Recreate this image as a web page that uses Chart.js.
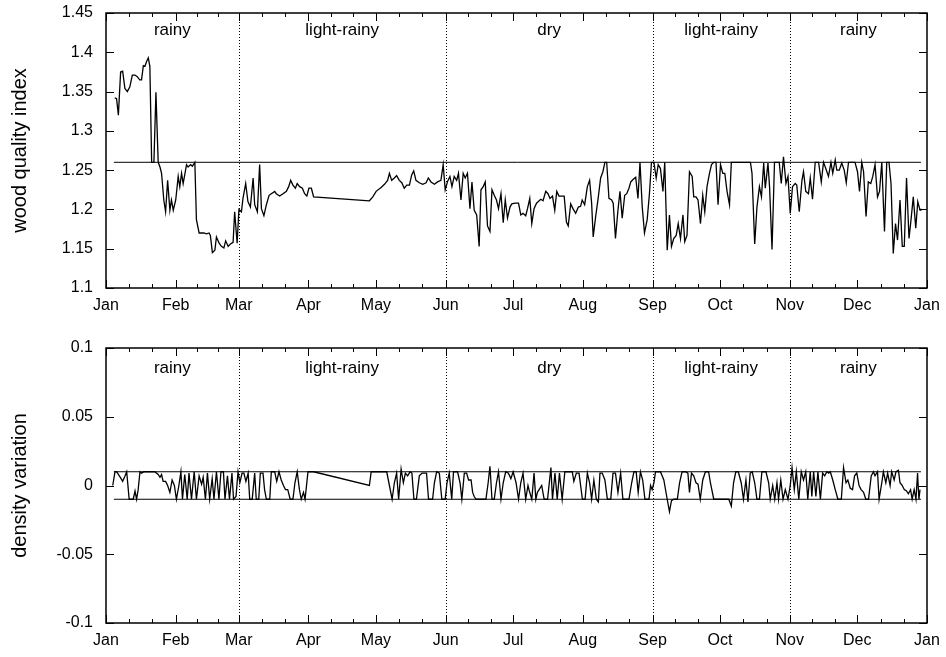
<!DOCTYPE html>
<html lang="en">
<head>
  <meta charset="UTF-8">
  <title>Wood quality index and density variation</title>
  <script src="https://cdn.jsdelivr.net/npm/chart.js"></script>
  <style>
    body {
      margin: 0;
      background: #fff;
    }
    .panel {
      width: 946px;
    }
    canvas {
      display: block;
    }
  </style>
</head>
<body>
  <div class="panel"><canvas id="qualityChart" width="946" height="330"></canvas></div>
  <div class="panel"><canvas id="densityChart" width="946" height="327"></canvas></div>

  <script>
    // month ticks (day of year)
    const monthStarts = [0, 31, 59, 90, 120, 151, 181, 212, 243, 273, 304, 334, 365];
    const monthLabels = ["Jan", "Feb", "Mar", "Apr", "May", "Jun", "Jul", "Aug", "Sep", "Oct", "Nov", "Dec", "Jan"];

    // seasons
    const seasonBounds = [59, 151, 243, 304];
    const seasonNames = ["rainy", "light-rainy", "dry", "light-rainy", "rainy"];
    const seasonCenters = [29.5, 105, 197, 273.5, 334.5];

    const qualityTicks = [1.1, 1.15, 1.2, 1.25, 1.3, 1.35, 1.4, 1.45];
    const densityTicks = [-0.1, -0.05, 0, 0.05, 0.1];

    // threshold lines
    const limitDays = [3.5, 362.3];
    const qualityLimit = 1.26;
    const densityUpper = 0.01;
    const densityLower = -0.01;

    const qualityDays = [
      3.9, 4.7, 5.5, 6.5, 7.4, 8.4, 9.5, 10.6, 11.7, 12.9, 13.9, 15.0, 15.8, 16.6, 17.3, 18.0, 18.8, 19.5, 20.3, 21.3, 22.2, 23.2, 24.0, 24.7, 25.7, 26.5, 27.4, 28.4, 29.1, 29.9,
      31.0, 32.1, 32.8, 33.6, 34.3, 35.0, 35.8, 36.5, 37.6, 38.4, 39.5, 40.2, 41.4, 42.5, 43.5, 44.7, 45.8, 46.4, 47.3, 48.4, 49.1, 50.3, 51.3, 52.4, 53.2, 54.3, 55.3, 56.5, 57.2, 58.3,
      59.1, 60.2, 60.9, 62.1, 63.1, 64.2, 65.4, 66.1, 67.3, 68.3, 69.1, 70.2, 71.3, 72.5, 73.5, 75.0, 75.7, 77.2, 78.7, 80.2, 81.2, 82.1, 83.1, 84.2, 85.0, 86.1, 87.3, 88.3, 89.3,
      90.2, 91.3, 92.3, 117.1, 118.6, 120.1, 122.3, 123.8, 125.2, 126.0, 127.0, 128.2, 129.2, 130.4, 131.5, 132.6, 133.7, 134.9, 135.9, 136.8, 137.8, 139.3, 140.8, 142.3, 143.3, 144.5, 146.0, 147.4, 148.9, 149.9, 150.8,
      151.9, 152.9, 153.8, 154.8, 155.9, 156.7, 157.8, 158.8, 159.7, 160.7, 161.8, 162.7, 163.7, 164.8, 165.9, 166.7, 167.7, 168.6, 169.6, 170.7, 171.6, 172.6, 173.6, 174.5, 175.6, 176.6, 177.5, 178.5, 179.6, 180.4,
      181.9, 183.4, 184.4, 185.4, 186.6, 187.4, 188.4, 189.3, 190.3, 191.4, 192.2, 193.3, 194.3, 195.5, 196.5, 197.4, 198.5, 199.5, 200.4, 201.4, 202.6, 203.7, 204.7, 205.5, 206.6, 207.6, 208.8, 210.0, 211.0, 211.7,
      212.8, 214.0, 215.0, 215.9, 216.6, 217.7, 218.8, 219.9, 220.9, 221.8, 222.6, 223.6, 224.8, 225.5, 226.5, 227.6, 228.5, 229.5, 230.6, 231.5, 232.5, 233.3, 234.3, 235.5, 236.5, 237.4, 238.4, 239.4, 240.6, 241.6, 242.5,
      243.6, 244.6, 245.5, 246.5, 247.6, 248.4, 249.5, 250.5, 251.4, 252.4, 253.5, 254.4, 255.4, 256.5, 257.3, 258.3, 259.4, 260.6, 261.3, 262.3, 263.2, 264.3, 265.3, 266.2, 267.2, 268.3, 269.2, 270.2, 271.2, 272.1,
      273.2, 274.2, 275.1, 276.1, 277.2, 278.0, 286.5, 287.2, 288.4, 289.4, 290.5, 291.4, 292.4, 293.1, 294.3, 295.0, 296.1, 297.2, 298.2, 299.3, 300.2, 301.2, 302.3, 303.2,
      304.2, 305.2, 306.4, 307.1, 308.2, 309.4, 310.1, 311.1, 312.3, 313.1, 314.1, 315.3, 316.8, 318.0, 319.0, 320.0, 321.2, 322.3, 323.1, 324.2, 324.9, 326.0, 327.1, 328.2, 329.1, 330.1, 333.0,
      334.1, 335.0, 336.0, 336.8, 337.9, 338.9, 340.0, 340.9, 341.9, 343.0, 343.9, 344.9, 346.1, 347.1, 348.1, 349.0, 350.0, 351.0, 351.9, 353.0, 354.0, 354.9, 355.9, 357.0, 357.9, 358.9, 360.0, 360.9, 361.9, 362.3
    ];
    const qualityValues = [
      1.342, 1.341, 1.320, 1.375, 1.376, 1.354, 1.350, 1.356, 1.371, 1.371, 1.369, 1.365, 1.365, 1.383, 1.382, 1.388, 1.393, 1.382, 1.26, 1.26, 1.349, 1.26, 1.254, 1.246, 1.212, 1.197, 1.237, 1.199, 1.212, 1.199,
      1.212, 1.242, 1.229, 1.246, 1.233, 1.244, 1.257, 1.254, 1.257, 1.255, 1.26, 1.187, 1.170, 1.170, 1.170, 1.169, 1.170, 1.167, 1.145, 1.148, 1.165, 1.157, 1.153, 1.151, 1.160, 1.153, 1.156, 1.158, 1.197, 1.157,
      1.200, 1.197, 1.214, 1.233, 1.210, 1.203, 1.240, 1.206, 1.197, 1.257, 1.201, 1.192, 1.206, 1.218, 1.220, 1.223, 1.220, 1.217, 1.220, 1.223, 1.229, 1.237, 1.231, 1.227, 1.233, 1.229, 1.227, 1.220, 1.217,
      1.227, 1.227, 1.216, 1.211, 1.216, 1.223, 1.228, 1.232, 1.237, 1.246, 1.237, 1.240, 1.243, 1.237, 1.234, 1.227, 1.231, 1.231, 1.244, 1.249, 1.237, 1.234, 1.232, 1.234, 1.240, 1.235, 1.232, 1.235, 1.237, 1.257, 1.225,
      1.236, 1.242, 1.229, 1.242, 1.237, 1.246, 1.212, 1.246, 1.240, 1.246, 1.201, 1.235, 1.199, 1.193, 1.153, 1.225, 1.229, 1.235, 1.179, 1.172, 1.225, 1.218, 1.212, 1.201, 1.220, 1.183, 1.212, 1.189, 1.203, 1.207,
      1.208, 1.208, 1.193, 1.195, 1.192, 1.201, 1.214, 1.182, 1.201, 1.208, 1.210, 1.213, 1.211, 1.223, 1.220, 1.214, 1.217, 1.199, 1.223, 1.217, 1.217, 1.217, 1.184, 1.179, 1.207, 1.201, 1.195, 1.203, 1.204, 1.212,
      1.206, 1.229, 1.237, 1.208, 1.165, 1.191, 1.214, 1.240, 1.248, 1.26, 1.26, 1.214, 1.212, 1.208, 1.163, 1.199, 1.223, 1.189, 1.218, 1.220, 1.227, 1.235, 1.238, 1.241, 1.214, 1.26, 1.203, 1.170, 1.187, 1.220, 1.26,
      1.26, 1.240, 1.257, 1.252, 1.223, 1.26, 1.148, 1.193, 1.153, 1.163, 1.167, 1.182, 1.163, 1.193, 1.159, 1.167, 1.248, 1.242, 1.216, 1.216, 1.212, 1.182, 1.218, 1.197, 1.229, 1.246, 1.257, 1.26, 1.26, 1.206,
      1.257, 1.246, 1.246, 1.223, 1.206, 1.26, 1.26, 1.246, 1.156, 1.203, 1.229, 1.216, 1.259, 1.227, 1.259, 1.229, 1.149, 1.26, 1.26, 1.26, 1.233, 1.267, 1.233, 1.242,
      1.195, 1.229, 1.233, 1.231, 1.197, 1.237, 1.248, 1.223, 1.220, 1.240, 1.213, 1.26, 1.26, 1.235, 1.26, 1.252, 1.242, 1.26, 1.246, 1.263, 1.250, 1.250, 1.259, 1.250, 1.234, 1.26, 1.26,
      1.248, 1.223, 1.26, 1.248, 1.191, 1.235, 1.233, 1.242, 1.257, 1.216, 1.223, 1.26, 1.172, 1.26, 1.26, 1.233, 1.144, 1.182, 1.161, 1.212, 1.153, 1.153, 1.240, 1.163, 1.187, 1.216, 1.176, 1.210, 1.199, 1.201
    ];

    const densityDays = [
      3.0, 4.0, 4.7, 6.5, 7.4, 8.4, 9.2, 10.3, 12.1, 12.9, 13.6, 14.3, 15.1, 15.8, 16.9, 21.7, 23.2, 24.0, 24.7, 25.4, 26.5, 27.4, 28.4, 29.4, 30.4,
      31.3, 32.4, 33.3, 34.0, 35.0, 36.1, 36.9, 38.0, 39.2, 40.2, 41.4, 42.5, 43.2, 44.2, 45.1, 46.1, 47.2, 48.0, 49.1, 50.2, 51.1, 52.2, 52.9, 54.0, 54.9, 56.0, 56.7, 57.8, 58.7,
      59.5, 60.5, 61.3, 62.2, 63.2, 63.9, 65.0, 66.1, 66.8, 67.9, 68.6, 69.8, 70.5, 71.3, 72.8, 73.5, 75.0, 75.9, 76.9, 77.9, 78.9, 79.8, 80.8, 81.9, 83.1, 84.0, 85.0, 86.0, 86.8, 87.8, 88.5, 89.8,
      92.3, 117.1, 117.9, 124.8, 126.0, 127.2, 128.2, 129.2, 130.1, 131.2, 132.2, 133.1, 134.1, 135.2, 136.0, 136.9, 138.0, 139.3, 140.5, 141.5, 142.5, 143.4, 145.2, 146.0, 147.0, 148.2, 149.3, 150.8,
      151.6, 152.6, 153.7, 154.5, 156.3, 157.4, 158.2, 159.3, 160.3, 161.2, 162.3, 163.0, 163.7, 164.5, 168.9, 169.9, 170.7, 171.6, 172.6, 173.6, 174.5, 175.6, 176.6, 177.7, 178.9, 180.0,
      181.0, 182.3, 183.4, 184.4, 185.4, 186.6, 187.6, 188.2, 189.3, 190.3, 191.1, 191.8, 193.7, 194.8, 196.3, 197.8, 198.5, 199.6, 200.6, 201.6, 202.8, 204.0, 205.5, 207.3, 208.0, 209.1, 210.3, 211.8,
      213.0, 214.0, 215.0, 215.9, 216.9, 218.0, 218.9, 219.6, 220.6, 221.8, 222.9, 224.4, 225.4, 226.5, 227.6, 228.8, 229.8, 232.5, 233.7, 234.7, 235.7, 236.6, 237.6, 238.6, 239.6, 241.4, 242.1, 242.8,
      243.6, 244.3, 246.5, 248.0, 249.5, 250.5, 251.4, 252.4, 254.0, 255.0, 256.1, 257.6, 258.7, 259.4, 260.3, 261.3, 262.3, 263.2, 264.2, 265.3, 266.5, 267.9, 268.7, 270.2,
      276.9, 278.0, 279.0, 280.0, 281.1, 282.4, 283.4, 284.5, 285.4, 286.4, 287.3, 288.4, 289.4, 290.5, 291.6, 293.4, 294.6, 295.3, 296.4, 297.3, 298.3, 299.0, 300.0, 301.0, 302.0, 303.2,
      304.2, 305.0, 306.0, 306.9, 308.0, 309.1, 310.1, 311.1, 312.0, 313.1, 313.8, 314.6, 315.6, 316.5, 317.6, 318.6, 319.5, 320.5, 321.3, 322.0, 323.1, 324.2, 325.4, 326.9, 327.9, 329.0, 329.8, 330.9, 331.9, 332.8, 333.8,
      334.8, 335.7, 336.8, 337.8, 339.0, 340.2, 341.2, 341.9, 343.0, 343.7, 344.9, 345.6, 346.7, 347.5, 348.6, 349.3, 350.4, 351.2, 352.3, 353.0, 354.0, 354.9, 355.9, 356.7, 357.7, 358.4, 359.3, 360.1, 360.8, 361.4, 361.9
    ];
    const densityValues = [
      0, 0.01, 0.01, 0.0055, 0.003, 0.0067, 0.01, -0.01, -0.01, -0.004, -0.01, -0.003, 0.01, 0.009, 0.01, 0.01, 0.008, 0.006, 0.008, 0.003, 0.003, 0, -0.005, 0.004, 0,
      -0.01, 0, 0.01, -0.01, 0.008, -0.01, 0.009, -0.01, 0.01, -0.01, 0.007, 0.001, 0.006, -0.01, 0.009, -0.01, 0.005, -0.01, 0.01, -0.01, 0.01, 0.01, -0.01, 0.007, -0.01, 0.009, -0.01, -0.008, 0.01,
      0.002, 0.009, 0.009, 0.003, 0.009, -0.01, -0.01, 0.009, -0.01, -0.01, 0.009, 0.009, -0.003, -0.01, -0.01, 0.01, 0.01, 0.003, 0.01, 0.004, 0, -0.003, -0.003, -0.01, -0.01, 0.002, 0.01, -0.003, -0.01, -0.005, -0.01, 0.01,
      0.01, 0, 0.01, 0.01, 0, -0.01, 0.002, 0.009, -0.01, 0.012, 0.002, 0.009, 0.007, 0.01, 0.009, -0.01, -0.01, 0.007, 0.009, 0.009, 0.009, -0.01, -0.01, 0.002, 0.01, 0.009, -0.01, -0.01,
      0.002, 0.009, -0.01, 0.01, 0.01, 0.002, -0.01, 0.009, 0.009, 0.004, 0.004, -0.005, -0.008, -0.01, -0.01, 0.002, 0.014, -0.01, -0.01, 0.002, 0.01, -0.01, 0.002, 0.01, 0.009, 0.005,
      0.01, 0.002, -0.01, 0.002, 0.009, -0.01, 0, -0.004, -0.01, 0.009, -0.01, -0.005, 0, -0.01, -0.01, 0.013, -0.01, 0.009, -0.01, 0.009, -0.01, 0.01, 0.01, 0.01, 0.003, 0.009, 0.009, -0.01,
      -0.01, 0.009, 0.002, -0.01, 0.004, -0.01, -0.012, 0.009, 0.009, 0.004, -0.01, -0.01, 0.009, 0.009, -0.005, 0.009, -0.01, -0.01, 0.002, 0.01, 0.01, -0.005, 0.01, 0.004, -0.01, -0.01, 0, -0.003,
      0.002, 0.01, 0.01, 0.004, -0.01, -0.019, -0.011, -0.01, -0.01, 0.002, 0.01, 0.01, 0.009, -0.005, 0.009, 0.007, 0.002, 0.001, -0.01, 0.004, 0.01, 0.01, 0.002, -0.01,
      -0.01, -0.015, 0.002, 0.01, 0.01, 0.002, -0.01, 0.004, -0.012, 0.009, 0.01, 0.002, -0.01, -0.01, 0.01, 0.01, 0.002, -0.01, 0, -0.01, 0.002, -0.01, 0.004, -0.01, -0.003, -0.01,
      0, 0.013, -0.003, 0.01, -0.01, 0.01, 0.004, 0.01, -0.01, 0.01, -0.008, 0.01, -0.008, 0.01, -0.01, 0.009, 0.007, 0.01, 0.009, 0.01, 0.004, -0.003, -0.01, -0.01, 0.013, 0.002, 0.004, -0.002, -0.003, 0.007, 0.009,
      0, -0.003, -0.005, -0.01, -0.01, 0.007, 0.01, 0.007, 0.01, -0.01, 0.002, 0.01, 0.002, 0.009, 0, 0.01, 0.004, 0.01, 0.011, 0.002, 0, -0.003, -0.004, -0.006, -0.003, -0.01, -0.003, -0.01, 0.009, -0.01, -0.003
    ];

    Chart.defaults.font.family = '"Liberation Sans", Arial, sans-serif';
    Chart.defaults.color = "#000";

    // box, inward ticks, season separators and season names
    const framePlugin = {
      id: "frame",
      beforeDatasetsDraw(chart, args, opts) {
        const { ctx, chartArea: a, scales: { x } } = chart;
        ctx.save();
        ctx.strokeStyle = "#000";
        ctx.lineWidth = 1;
        ctx.setLineDash([1, 2]);
        seasonBounds.forEach(d => {
          const px = Math.round(x.getPixelForValue(d)) + 0.5;
          ctx.beginPath();
          ctx.moveTo(px, a.top);
          ctx.lineTo(px, a.bottom);
          ctx.stroke();
        });
        ctx.setLineDash([]);
        ctx.fillStyle = "#000";
        ctx.font = '17px "Liberation Sans", Arial, sans-serif';
        ctx.textAlign = "center";
        ctx.textBaseline = "middle";
        seasonNames.forEach((name, i) => {
          ctx.fillText(name, x.getPixelForValue(seasonCenters[i]), a.top + opts.labelOffset);
        });
        ctx.restore();
      },
      afterDraw(chart) {
        const { ctx, chartArea: a, scales: { x, y } } = chart;
        ctx.save();
        ctx.strokeStyle = "#000";
        ctx.lineWidth = 1;
        ctx.beginPath();
        monthStarts.forEach((d, i) => {
          const px = Math.round(x.getPixelForValue(d)) + 0.5;
          ctx.moveTo(px, a.bottom);
          ctx.lineTo(px, a.bottom - 8);
          ctx.moveTo(px, a.top);
          ctx.lineTo(px, a.top + 8);
          if (i < monthStarts.length - 1) {
            const step = (monthStarts[i + 1] - d) / 3;
            for (let k = 1; k < 3; k++) {
              const mx = Math.round(x.getPixelForValue(d + k * step)) + 0.5;
              ctx.moveTo(mx, a.bottom);
              ctx.lineTo(mx, a.bottom - 4);
              ctx.moveTo(mx, a.top);
              ctx.lineTo(mx, a.top + 4);
            }
          }
        });
        y.ticks.forEach(t => {
          const py = Math.round(y.getPixelForValue(t.value)) + 0.5;
          ctx.moveTo(a.left, py);
          ctx.lineTo(a.left + 8, py);
          ctx.moveTo(a.right, py);
          ctx.lineTo(a.right - 8, py);
        });
        ctx.stroke();
        ctx.lineWidth = 1.5;
        ctx.strokeRect(a.left, a.top, a.right - a.left, a.bottom - a.top);
        ctx.restore();
      }
    };

    function toPoints(days, values) {
      return days.map((d, i) => ({ x: d, y: values[i] }));
    }

    function lineSet(points, width) {
      return {
        data: points,
        borderColor: "#000",
        borderWidth: width,
        pointRadius: 0,
        tension: 0,
        fill: false
      };
    }

    function buildOptions(yTicks, yTitle, padTop, xAxisHeight, labelOffset) {
      return {
        responsive: false,
        animation: false,
        events: [],
        layout: { padding: { top: padTop, right: 19, left: 0, bottom: 0 } },
        plugins: {
          legend: { display: false },
          tooltip: { enabled: false },
          frame: { labelOffset }
        },
        scales: {
          x: {
            type: "linear",
            min: 0,
            max: 365,
            grid: { display: false, drawTicks: false },
            border: { display: false },
            afterBuildTicks: s => { s.ticks = monthStarts.map(v => ({ value: v })); },
            afterFit: s => {
              s.height = xAxisHeight;
              s.paddingLeft = 0;
              s.paddingRight = 0;
            },
            ticks: {
              autoSkip: false,
              maxRotation: 0,
              padding: 8,
              font: { size: 16 },
              callback: (v, i) => monthLabels[i]
            }
          },
          y: {
            min: yTicks[0],
            max: yTicks[yTicks.length - 1],
            grid: { display: false, drawTicks: false },
            border: { display: false },
            afterBuildTicks: s => { s.ticks = yTicks.map(v => ({ value: v })); },
            afterFit: s => {
              s.width = 106;
              s.paddingTop = 0;
              s.paddingBottom = 0;
            },
            ticks: {
              padding: 13,
              font: { size: 16 },
              callback: v => String(v)
            },
            title: {
              display: true,
              text: yTitle,
              font: { size: 20 },
              padding: { top: 8, bottom: 0 }
            }
          }
        }
      };
    }

    new Chart(document.getElementById("qualityChart"), {
      type: "line",
      data: {
        datasets: [
          lineSet(toPoints(qualityDays, qualityValues), 1.3),
          lineSet(limitDays.map(d => ({ x: d, y: qualityLimit })), 1)
        ]
      },
      options: buildOptions(qualityTicks, "wood quality index", 13, 42, 17),
      plugins: [framePlugin]
    });

    new Chart(document.getElementById("densityChart"), {
      type: "line",
      data: {
        datasets: [
          lineSet(toPoints(densityDays, densityValues), 1.3),
          lineSet(limitDays.map(d => ({ x: d, y: densityUpper })), 1),
          lineSet(limitDays.map(d => ({ x: d, y: densityLower })), 1)
        ]
      },
      options: buildOptions(densityTicks, "density variation", 18, 34, 20),
      plugins: [framePlugin]
    });
  </script>
</body>
</html>
